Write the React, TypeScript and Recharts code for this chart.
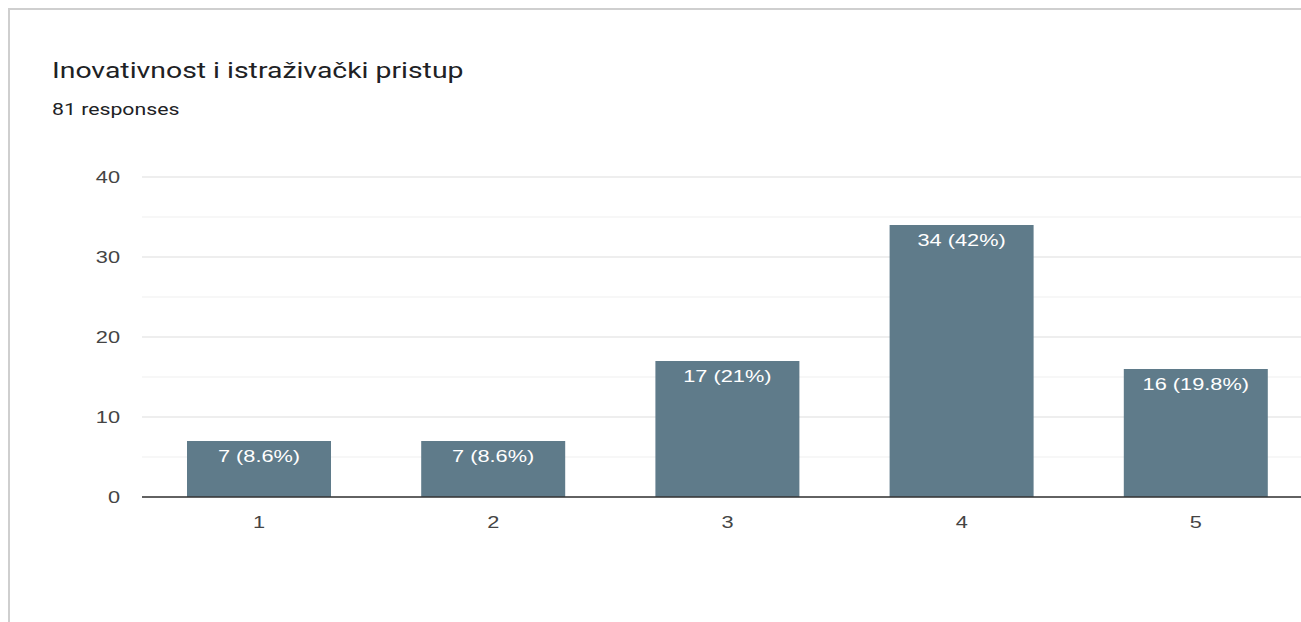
import React from "react";
import { BarChart, Bar, XAxis, YAxis, CartesianGrid, LabelList } from "recharts";

const categories = ["1", "2", "3", "4", "5"];
const counts = [7, 7, 17, 34, 16];
const totalResponses = 81;
const yTicks = [0, 10, 20, 30, 40];
const minorTicks = [5, 15, 25, 35];

const fmtPct = (v: number) => {
  const p = (v / totalResponses) * 100;
  const s = p.toFixed(1);
  return s.endsWith(".0") ? s.slice(0, -2) : s;
};

const data = categories.map((c, i) => ({
  name: c,
  value: counts[i],
  label: `${counts[i]} (${fmtPct(counts[i])}%)`,
}));

const chartFont = "'Liberation Sans', Arial, sans-serif";
const SX = 1.28;

const XTick = (props: any) => {
  const { x, y, payload } = props;
  return (
    <g transform={`translate(${x},${y})`}>
      <text transform={`scale(${SX},1)`} textAnchor="middle" dy="0.71em" fill="#444" fontSize={17} fontFamily={chartFont}>
        {payload.value}
      </text>
    </g>
  );
};

const YTick = (props: any) => {
  const { x, y, payload } = props;
  return (
    <g transform={`translate(${x},${y})`}>
      <text transform={`scale(${SX},1)`} textAnchor="end" dy="0.355em" fill="#444" fontSize={17} fontFamily={chartFont}>
        {payload.value}
      </text>
    </g>
  );
};

const BarLabel = (props: any) => {
  const { x, y, width, value } = props;
  return (
    <g transform={`translate(${Number(x) + Number(width) / 2},${Number(y) + 9})`}>
      <text transform={`scale(${SX},1)`} textAnchor="middle" dy="0.71em" fill="#ffffff" fontSize={17} fontFamily={chartFont}>
        {value}
      </text>
    </g>
  );
};

export default function App() {
  return (
    <div
      style={{
        position: "fixed",
        left: 8,
        top: 8,
        width: 1293,
        height: 614,
        overflow: "hidden",
        boxSizing: "border-box",
        borderLeft: "2px solid #cfcfcf",
        borderTop: "2px solid #cfcfcf",
        background: "#fff",
      }}
    >
      <div
        style={{
          position: "absolute",
          left: 42,
          top: 46,
          fontFamily: "Roboto, sans-serif",
          fontSize: 22,
          lineHeight: "30px",
          color: "#202124",
          whiteSpace: "nowrap",
          transform: "scaleX(1.29)",
          transformOrigin: "0 0",
        }}
      >
        Inovativnost i istraživački pristup
      </div>
      <div
        style={{
          position: "absolute",
          left: 42,
          top: 88,
          fontFamily: "Roboto, sans-serif",
          fontSize: 17,
          lineHeight: "22px",
          color: "#202124",
          whiteSpace: "nowrap",
          transform: "scaleX(1.25)",
          transformOrigin: "0 0",
        }}
      >
        {`${totalResponses} responses`}
      </div>
      <div style={{ position: "absolute", left: 0, top: 0 }}>
        <BarChart
          width={1340}
          height={590}
          data={data}
          margin={{ top: 167, right: 37, bottom: 63, left: 72 }}
          barSize={144}
        >
          <CartesianGrid vertical={false} horizontalValues={minorTicks} stroke="#f4f4f4" strokeWidth={1.5} />
          <CartesianGrid vertical={false} horizontalValues={yTicks} stroke="#e9e9e9" strokeWidth={1.5} />
          <XAxis
            dataKey="name"
            height={40}
            tickSize={0}
            tickMargin={19}
            axisLine={{ stroke: "#333", strokeWidth: 1.5 }}
            tick={<XTick />}
          />
          <YAxis
            width={60}
            domain={[0, 40]}
            ticks={yTicks}
            tickSize={0}
            tickMargin={22}
            axisLine={false}
            tick={<YTick />}
          />
          <Bar dataKey="value" fill="#5f7b8a" isAnimationActive={false}>
            <LabelList dataKey="label" content={<BarLabel />} />
          </Bar>
        </BarChart>
      </div>
    </div>
  );
}
